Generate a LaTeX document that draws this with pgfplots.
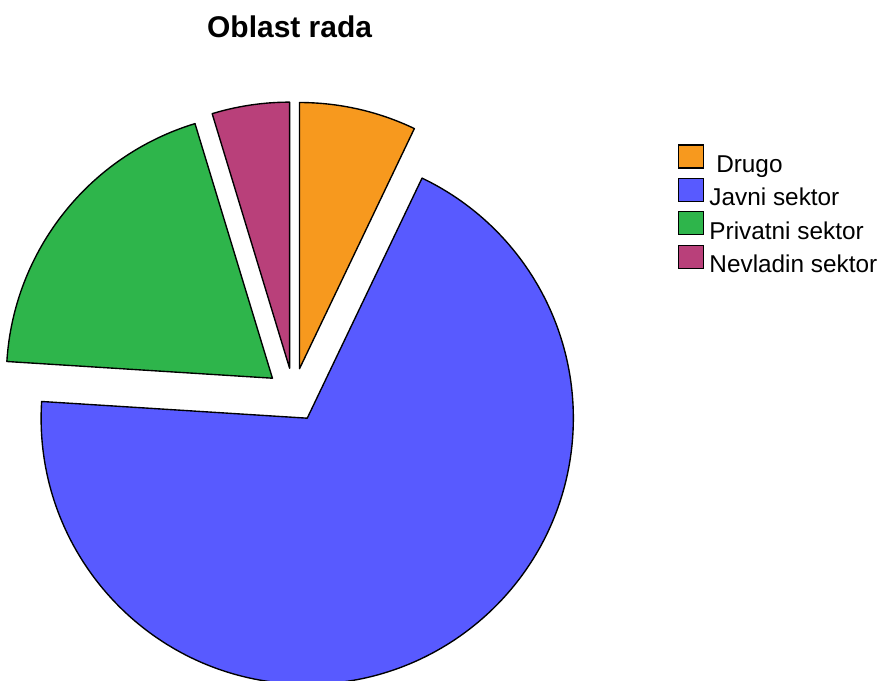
\documentclass[border=0pt]{standalone}
\usepackage{pgfplots}
\pgfplotsset{compat=1.18}
\usepackage{pgfplotstable}
\usepackage{fontspec}
\setmainfont{Liberation Sans}

\definecolor{pie0}{RGB}{247,153,30}
\definecolor{pie1}{RGB}{88,90,255}
\definecolor{pie2}{RGB}{46,181,75}
\definecolor{pie3}{RGB}{185,64,122}

\pgfplotstableread{
label pct
Drugo 7.1
Javni 68.9
Privatni 19.3
Nevladin 4.7
}\piedata

\begin{document}
\xdef\cumang{90}%
\foreach \i in {0,1,2,3}{%
  \pgfplotstablegetelem{\i}{pct}\of\piedata
  \pgfmathsetmacro\spn{3.6*\pgfplotsretval}%
  \pgfmathsetmacro\startang{\cumang-\spn}%
  \pgfmathsetmacro\midang{\cumang-\spn/2}%
  \expandafter\xdef\csname pe\i\endcsname{\cumang}%
  \expandafter\xdef\csname ps\i\endcsname{\startang}%
  \expandafter\xdef\csname pm\i\endcsname{\midang}%
  \xdef\cumang{\startang}%
}%
\begin{tikzpicture}
\begin{axis}[
  x=0.4pt, y=0.4pt, scale only axis,
  xmin=0, xmax=879, ymin=0, ymax=681,
  hide axis, clip=true,
  legend image code/.code={\draw[#1] (0pt,-1.2pt) rectangle (10pt,8.0pt);},
  legend style={at={(axis cs:678,537)}, anchor=north west, draw=none, fill=none,
    inner sep=0pt, font=\fontsize{9.75}{11}\selectfont,
    nodes={text height=7.5pt, text depth=1.4pt, inner sep=0.7pt},
    /tikz/every odd column/.append style={column sep=1.6pt},
    /tikz/every even column/.append style={column sep=0pt}},
  legend cell align=left,
]
\path (rel axis cs:0,0) rectangle (rel axis cs:1,1);
\pgfplotsinvokeforeach{0,1,2,3}{
  \filldraw[fill=pie#1, draw=black, line width=0.55pt, line join=round]
    (axis cs:294,285.5) ++({\csname pm#1\endcsname}:10.8pt)
    -- ++({\csname ps#1\endcsname}:106.6pt)
    arc[start angle={\csname ps#1\endcsname}, end angle={\csname pe#1\endcsname}, radius=106.6pt]
    -- cycle;
}
\node[font=\fontsize{12}{14}\selectfont\bfseries, anchor=base] at (axis cs:290,643) {Oblast rada};
\addlegendimage{fill=pie0, draw=black, line width=0.5pt}
\addlegendentry{\ Drugo}
\addlegendimage{fill=pie1, draw=black, line width=0.5pt}
\addlegendentry{Javni sektor}
\addlegendimage{fill=pie2, draw=black, line width=0.5pt}
\addlegendentry{Privatni sektor}
\addlegendimage{fill=pie3, draw=black, line width=0.5pt}
\addlegendentry{Nevladin sektor}
\end{axis}
\end{tikzpicture}
\end{document}
